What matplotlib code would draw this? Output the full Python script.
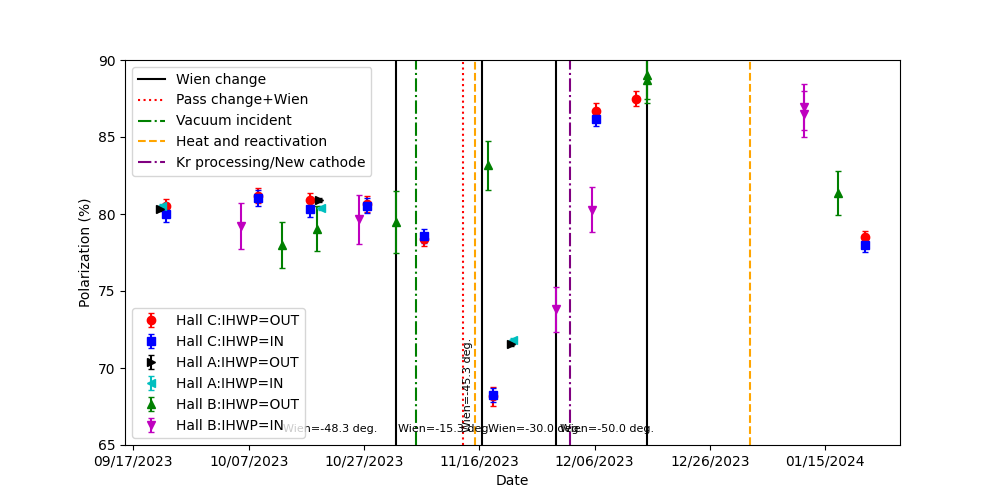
import pandas as pd
import numpy as np
from matplotlib import pyplot as plt
import matplotlib.dates as mdates

# Hall C measurements
hallc_out_dates = ['2023-09-22 17:00', '2023-10-08 15:00', '2023-10-17 14:00', '2023-10-27 12:30',
                   '2023-11-06 08:00', '2023-11-18 07:00', '2023-12-06 07:00', '2023-12-13 03:00',
                   '2024-01-21 20:00']
hallc_out = [80.55, 81.2, 80.9, 80.65, 78.35, 68.15, 86.7, 87.5, 78.5]
hallc_out_err = [0.45, 0.5, 0.45, 0.55, 0.4, 0.6, 0.5, 0.5, 0.4]

hallc_in_dates = ['2023-09-22 17:00', '2023-10-08 15:00', '2023-10-17 14:00', '2023-10-27 12:30',
                  '2023-11-06 08:00', '2023-11-18 07:00', '2023-12-06 07:00', '2024-01-21 20:00']
hallc_in = [80.0, 81.05, 80.3, 80.55, 78.55, 68.25, 86.2, 78.0]
hallc_in_err = [0.5, 0.5, 0.5, 0.5, 0.45, 0.45, 0.5, 0.45]

# Hall A measurements
halla_out_dates = ['2023-09-21 16:00', '2023-10-19 04:00', '2023-11-21 12:00']
halla_in_dates = ['2023-09-22 01:00', '2023-10-19 14:00', '2023-11-21 22:00']
halla_out = [80.35, 80.9, 71.55]
halla_in = [80.5, 80.4, 71.8]
halla_err = [0.15, 0.15, 0.15]

# Hall B measurements
hallb_out_dates = ['2023-10-12 19:00', '2023-10-18 19:00', '2023-11-01 14:00', '2023-11-17 12:00',
                   '2023-12-15 01:00', '2023-12-15 01:00', '2024-01-17 04:00']
hallb_out = [78.0, 79.05, 79.5, 83.15, 89.0, 88.7, 81.38]
hallb_out_err = [1.5, 1.45, 2.0, 1.57, 1.5, 1.5, 1.43]

hallb_in_dates = ['2023-10-05 18:00', '2023-10-26 03:00', '2023-11-29 06:00', '2023-12-05 12:00',
                  '2024-01-11 06:00', '2024-01-11 06:00']
hallb_in = [79.2, 79.65, 73.8, 80.27, 86.95, 86.5]
hallb_in_err = [1.5, 1.6, 1.47, 1.46, 1.47, 1.48]

# events
wien_dates = ['2023-11-01 14:00', '2023-11-16 12:00', '2023-11-29 08:00', '2023-12-15 00:00']
pass_dates = ['2023-11-13 03:00']
vacuum_dates = ['2023-11-04 23:00']
heat_dates = ['2023-11-15 05:00', '2024-01-01 23:00']
kr_dates = ['2023-12-01 16:00']

wien_labels = ['Wien=-48.3 deg.', 'Wien=-15.3 deg.', 'Wien=-30.0 deg.', 'Wien=-50.0 deg.']
wien_label_dates = ['2023-10-12 22:00', '2023-11-01 21:00', '2023-11-17 14:00', '2023-11-30 00:00']
pass_label = 'Wien=-45.3 deg.'
pass_label_date = '2023-11-13 04:00'

tick_dates = pd.date_range('2023-09-17', '2024-01-15', freq='20D')

d = pd.to_datetime

fig, ax = plt.subplots(figsize=(10, 5), dpi=100)

# vertical event lines
lines = []
for i, t in enumerate(wien_dates):
    l = ax.axvline(d(t), color='k', linestyle='-')
    if i == 0:
        lines.append(l)
for t in pass_dates:
    l = ax.axvline(d(t), color='red', linestyle=':')
lines.append(l)
for t in vacuum_dates:
    l = ax.axvline(d(t), color='green', linestyle='-.')
lines.append(l)
for i, t in enumerate(heat_dates):
    l = ax.axvline(d(t), color='orange', linestyle='--')
    if i == 0:
        lines.append(l)
for t in kr_dates:
    l = ax.axvline(d(t), color='purple', linestyle='-.')
lines.append(l)
line_labels = ['Wien change', 'Pass change+Wien', 'Vacuum incident',
               'Heat and reactivation', 'Kr processing/New cathode']

# data points
cs = 2.5
e1 = ax.errorbar(d(hallc_out_dates), hallc_out, yerr=hallc_out_err, fmt='ro', capsize=cs)
e2 = ax.errorbar(d(hallc_in_dates), hallc_in, yerr=hallc_in_err, fmt='bs', capsize=cs)
e4 = ax.errorbar(d(halla_in_dates), halla_in, yerr=halla_err, fmt='c<', capsize=cs)
e3 = ax.errorbar(d(halla_out_dates), halla_out, yerr=halla_err, fmt='k>', capsize=cs)
e5 = ax.errorbar(d(hallb_out_dates), hallb_out, yerr=hallb_out_err, fmt='g^', capsize=cs)
e6 = ax.errorbar(d(hallb_in_dates), hallb_in, yerr=hallb_in_err, fmt='mv', capsize=cs)

for lab, t in zip(wien_labels, wien_label_dates):
    ax.text(d(t), 65.85, lab, fontsize=8)
ax.text(d(pass_label_date), 65.85, pass_label, fontsize=8, rotation=90, va='bottom', ha='left')

ax.set_ylim(65, 90)
ax.set_xticks(tick_dates)
ax.xaxis.set_major_formatter(mdates.DateFormatter('%m/%d/%Y'))
ax.set_xlabel('Date')
ax.set_ylabel('Polarization (%)')

leg1 = ax.legend(lines, line_labels, loc='upper left')
ax.add_artist(leg1)
ax.legend([e1, e2, e3, e4, e5, e6],
          ['Hall C:IHWP=OUT', 'Hall C:IHWP=IN', 'Hall A:IHWP=OUT',
           'Hall A:IHWP=IN', 'Hall B:IHWP=OUT', 'Hall B:IHWP=IN'],
          loc='lower left')

plt.savefig('out.png')
